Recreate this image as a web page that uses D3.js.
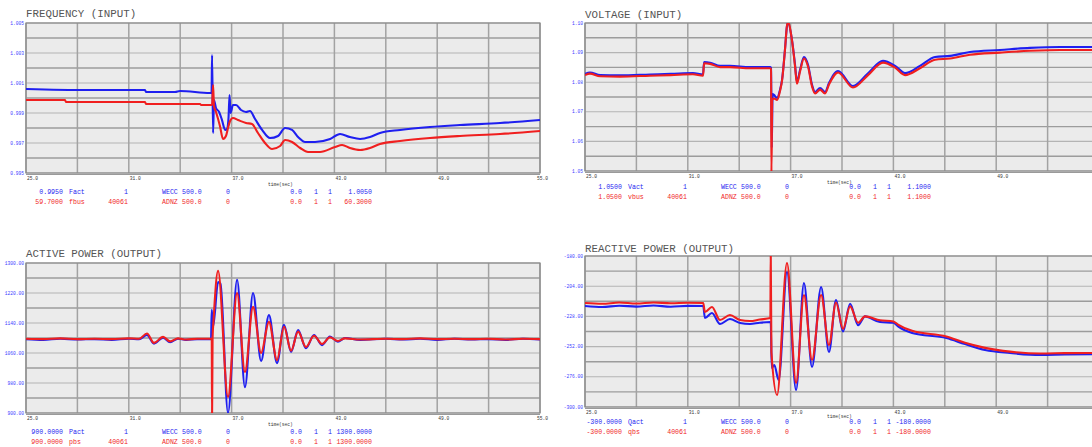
<!DOCTYPE html>
<html><head><meta charset="utf-8">
<script src="https://cdn.jsdelivr.net/npm/d3@7"></script>
<style>body{margin:0;background:#fff}svg{display:block}</style>
</head><body>
<svg id="c" width="1092" height="447"></svg>
<script>
// ---------------- DATA ----------------
const xTickValues = [25, 31, 37, 43, 49, 55];
const xTickLabels = ["25.0", "31.0", "37.0", "43.0", "49.0", "55.0"];
const titles = ["FREQUENCY (INPUT)", "VOLTAGE (INPUT)", "ACTIVE POWER (OUTPUT)", "REACTIVE POWER (OUTPUT)"];

const freqTicks = ["1.005", "1.003", "1.001", "0.999", "0.997", "0.995"];
const voltTicks = ["1.10", "1.09", "1.08", "1.07", "1.06", "1.05"];
const activeTicks = ["1300.00", "1220.00", "1140.00", "1060.00", "980.00", "900.00"];
const reactiveTicks = ["-180.00", "-204.00", "-228.00", "-252.00", "-276.00", "-300.00"];

const freqBlue = [[25.00,1.0006],[28.50,1.00053],[31.95,1.00053],[32.00,1.0004],[33.70,1.0004],[33.99,1.00047],[35.74,1.00033],[35.83,1.00033],[35.86,1.00287],[35.92,0.99767],[35.97,0.99987],[36.09,0.99933],[36.27,0.99907],[36.44,0.99853],[36.62,0.99787],[36.73,0.99793],[36.82,0.99867],[36.88,1.0002],[36.94,0.999],[37.08,0.99953],[37.26,0.99953],[37.55,0.9992],[37.84,0.99907],[38.07,0.99913],[38.37,0.9986],[38.78,0.99787],[39.24,0.99733],[39.71,0.99747],[40.12,0.998],[40.53,0.99787],[40.88,0.9974],[41.29,0.99707],[41.87,0.99707],[42.75,0.99727],[43.33,0.9976],[43.91,0.9974],[44.50,0.99727],[45.08,0.9974],[45.66,0.99767],[46.83,0.99787],[48.58,0.99807],[50.33,0.9982],[52.67,0.99833],[55.00,0.99853]];
const freqRed = [[25.00,59.992],[27.28,59.992],[27.33,59.984],[31.95,59.984],[32.00,59.976],[35.16,59.976],[35.22,59.972],[35.86,59.972],[35.92,60.052],[35.97,59.968],[36.09,59.944],[36.32,59.888],[36.50,59.836],[36.67,59.848],[36.79,59.88],[36.91,59.908],[37.08,59.92],[37.37,59.912],[37.84,59.9],[38.19,59.896],[38.54,59.86],[38.95,59.82],[39.36,59.796],[39.83,59.808],[40.12,59.832],[40.53,59.824],[41.00,59.80],[41.46,59.784],[42.16,59.784],[43.04,59.804],[43.45,59.812],[43.91,59.80],[44.50,59.792],[45.08,59.80],[45.66,59.816],[46.83,59.828],[48.58,59.84],[50.33,59.848],[52.67,59.856],[55.00,59.868]];

const voltBlue = [[25.00,1.0828],[25.29,1.0833],[25.88,1.0824],[27.04,1.0823],[28.79,1.0826],[30.00,1.0828],[31.30,1.0831],[31.89,1.0826],[31.95,1.0868],[32.30,1.0866],[32.88,1.0855],[33.46,1.0855],[34.63,1.0851],[35.80,1.0851],[35.86,1.0848],[35.90,1.0578],[35.95,1.0760],[36.03,1.0757],[36.21,1.0747],[36.38,1.0774],[36.50,1.0808],[36.67,1.0909],[36.79,1.0990],[36.85,1.1000],[37.08,1.0943],[37.26,1.0858],[37.37,1.0801],[37.55,1.0841],[37.78,1.0885],[38.02,1.0858],[38.25,1.0791],[38.43,1.0767],[38.72,1.0780],[39.01,1.0767],[39.24,1.0797],[39.77,1.0838],[40.64,1.0787],[41.52,1.0830],[42.39,1.0872],[43.10,1.0855],[43.68,1.0831],[44.55,1.0855],[45.43,1.0885],[46.31,1.0889],[47.47,1.0902],[49.22,1.0909],[50.97,1.0916],[52.73,1.0919],[55.00,1.0919]];
const voltRed = [[25.00,1.0824],[25.29,1.0829],[25.88,1.0820],[27.04,1.0819],[28.79,1.0822],[30.00,1.0824],[31.30,1.0827],[31.89,1.0822],[31.95,1.0864],[32.30,1.0862],[32.88,1.0851],[33.46,1.0851],[34.63,1.0847],[35.80,1.0847],[35.86,1.0844],[35.88,1.0490],[35.93,1.0740],[36.03,1.0745],[36.21,1.0740],[36.38,1.0770],[36.50,1.0805],[36.67,1.0908],[36.79,1.0992],[36.85,1.1002],[37.08,1.0942],[37.26,1.0853],[37.37,1.0795],[37.55,1.0836],[37.78,1.0880],[38.02,1.0852],[38.25,1.0786],[38.43,1.0762],[38.72,1.0775],[39.01,1.0762],[39.24,1.0792],[39.77,1.0833],[40.64,1.0782],[41.52,1.0824],[42.39,1.0866],[43.10,1.0849],[43.68,1.0824],[44.55,1.0847],[45.43,1.0876],[46.31,1.0880],[47.47,1.0893],[49.22,1.0900],[50.97,1.0906],[52.73,1.0909],[55.00,1.0909]];

const activeBlue = [[25.00,1097],[26.0,1095],[27.0,1098],[28.0,1096],[29.0,1097],[30.0,1095],[31.0,1098],[31.6,1097],[32.06,1108],[32.47,1085],[33.00,1101],[33.41,1089],[33.87,1098],[34.34,1095],[35.0,1097],[35.80,1097],[35.84,1175],[35.92,1130],[36.21,1249],[36.35,1245],[36.79,900],[37.32,1255],[37.78,969],[38.25,1220],[38.72,1039],[39.18,1161],[39.65,1033],[40.06,1135],[40.47,1063],[40.88,1121],[41.34,1073],[41.81,1108],[42.28,1081],[42.74,1104],[43.20,1090],[43.62,1100],[44.50,1095],[46.0,1098],[47.0,1096],[48.0,1098],[49.0,1095],[50.0,1098],[51.0,1096],[52.0,1097],[53.0,1095],[54.0,1098],[55.0,1096]];
const activeRed = [[25.00,1098],[26.0,1097],[27.0,1099],[28.0,1097],[29.0,1098],[30.0,1097],[31.0,1099],[31.6,1098],[32.06,1112],[32.47,1087],[33.00,1103],[33.41,1091],[33.87,1099],[34.34,1096],[35.0,1098],[35.84,1098],[35.86,890],[35.89,1100],[35.95,1150],[36.21,1279],[36.79,943],[37.32,1220],[37.78,1009],[38.25,1183],[38.72,1060],[39.18,1143],[39.65,1041],[40.06,1130],[40.47,1066],[40.88,1117],[41.34,1076],[41.81,1106],[42.28,1084],[42.74,1102],[43.20,1092],[43.62,1099],[44.50,1096],[46.0,1098],[47.0,1097],[48.0,1099],[49.0,1097],[50.0,1098],[51.0,1097],[52.0,1098],[53.0,1096],[54.0,1098],[55.0,1097]];

const reactiveBlue = [[25.0,-219.7],[26.0,-220.5],[27.0,-219.5],[28.0,-220.2],[29.0,-219.3],[30.0,-220.3],[31.0,-219.6],[31.9,-219.7],[32.0,-229.3],[32.41,-225.3],[32.88,-234.0],[33.46,-230.1],[34.05,-233.2],[34.63,-234.0],[35.2,-233.0],[35.84,-232.5],[35.90,-269.0],[36.05,-266.6],[36.30,-278.5],[36.79,-192.7],[37.32,-286.5],[37.78,-201.5],[38.25,-268.2],[38.78,-204.6],[39.24,-256.3],[39.65,-215.0],[40.06,-240.0],[40.47,-218.0],[40.94,-235.0],[41.34,-228.0],[42.22,-232.5],[43.00,-233.0],[43.27,-236.0],[44.09,-241.2],[46.09,-245.2],[47.18,-250.0],[48.35,-254.7],[49.81,-257.1],[51.56,-258.7],[53.0,-258.3],[55.0,-258.0]];
const reactiveRed = [[25.0,-217.4],[26.0,-218.0],[27.0,-217.0],[28.0,-217.8],[29.0,-216.9],[30.0,-217.6],[31.0,-217.2],[31.9,-217.4],[32.0,-224.5],[32.41,-220.5],[32.88,-230.9],[33.46,-226.9],[34.05,-230.9],[34.63,-231.7],[35.2,-230.5],[35.82,-229.3],[35.84,-175],[35.88,-256.3],[36.21,-290.5],[36.79,-185.6],[37.32,-280.9],[37.78,-211.0],[38.25,-262.6],[38.78,-211.0],[39.24,-250.7],[39.65,-217.0],[40.06,-238.0],[40.47,-220.0],[40.94,-233.0],[41.34,-228.0],[42.22,-231.0],[43.00,-232.0],[43.27,-234.5],[44.09,-239.5],[46.09,-244.0],[47.18,-249.0],[48.35,-253.0],[49.81,-256.0],[51.56,-257.5],[53.0,-257.2],[55.0,-257.0]];

const legendFreqBlue = ["0.9950", "Fact", "1", "WECC", "500.0", "0", "0.0", "1", "1", "1.0050"];
const legendFreqRed = ["59.7000", "fbus", "40061", "ADNZ", "500.0", "0", "0.0", "1", "1", "60.3000"];
const legendVoltBlue = ["1.0500", "Vact", "1", "WECC", "500.0", "0", "0.0", "1", "1", "1.1000"];
const legendVoltRed = ["1.0500", "vbus", "40061", "ADNZ", "500.0", "0", "0.0", "1", "1", "1.1000"];
const legendActiveBlue = ["900.0000", "Pact", "1", "WECC", "500.0", "0", "0.0", "1", "1", "1300.0000"];
const legendActiveRed = ["900.0000", "pbs", "40061", "ADNZ", "500.0", "0", "0.0", "1", "1", "1300.0000"];
const legendReactiveBlue = ["-300.0000", "Qact", "1", "WECC", "500.0", "0", "0.0", "1", "1", "-180.0000"];
const legendReactiveRed = ["-300.0000", "qbs", "40061", "ADNZ", "500.0", "0", "0.0", "1", "1", "-180.0000"];

// ---------------- DRAW ----------------
const W = 1092;
const svg = d3.select("#c");
const BLUE = "#1f1ff0", RED = "#f01f1f";
const MONO = "'Liberation Mono','DejaVu Sans Mono',monospace";

const panels = [
  {id:"p0", box:[26,540,23,173], title:titles[0], ticks:freqTicks,
   blue:{data:freqBlue, dom:[0.995,1.005]}, red:{data:freqRed, dom:[59.7,60.3]},
   legB:legendFreqBlue, legR:legendFreqRed, tOff:-6, lOff:21, sOff:11},
  {id:"p1", box:[585,1099,23,171], title:titles[1], ticks:voltTicks,
   blue:{data:voltBlue, dom:[1.05,1.10]}, red:{data:voltRed, dom:[1.05,1.10]},
   legB:legendVoltBlue, legR:legendVoltRed, tOff:-5, lOff:18, sOff:11},
  {id:"p2", box:[26,540,263,413], title:titles[2], ticks:activeTicks,
   blue:{data:activeBlue, dom:[900,1300]}, red:{data:activeRed, dom:[900,1300]},
   legB:legendActiveBlue, legR:legendActiveRed, tOff:-6, lOff:21, sOff:11},
  {id:"p3", box:[585,1099,256,407], title:titles[3], ticks:reactiveTicks,
   blue:{data:reactiveBlue, dom:[-300,-180]}, red:{data:reactiveRed, dom:[-300,-180]},
   legB:legendReactiveBlue, legR:legendReactiveRed, tOff:-4, lOff:17, sOff:9}
];

const legCols = [[37,"end"],[43,"start"],[102,"end"],[136,"start"],[156,"start"],[200,"start"],
                 [276,"end"],[290,"middle"],[304,"middle"],[346,"end"]];

const defs = svg.append("defs");

panels.forEach(p => {
  const [x0,x1,y0,y1] = p.box;
  const x = d3.scaleLinear().domain([25,55]).range([x0,x1]);
  const yB = d3.scaleLinear().domain(p.blue.dom).range([y1,y0]);
  const yR = d3.scaleLinear().domain(p.red.dom).range([y1,y0]);
  const g = svg.append("g");

  defs.append("clipPath").attr("id","clip"+p.id)
    .append("rect").attr("x",x0).attr("y",y0).attr("width",x1-x0).attr("height",y1-y0);

  g.append("rect").attr("x",x0).attr("y",y0).attr("width",x1-x0).attr("height",y1-y0)
    .attr("fill","#ebebeb");

  const hy = d3.range(0,11).map(i => y0 + (y1-y0)*i/10);
  g.selectAll(".hg").data(hy).join("line")
    .attr("x1",x0).attr("x2",x1).attr("y1",d=>d).attr("y2",d=>d)
    .attr("stroke",(d,i)=> i%2? "#9c9c9c":"#b4b4b4").attr("stroke-width",(d,i)=> i%2?1.4:1.1);
  const vx = d3.range(0,11).map(i => 25 + 3*i);
  g.selectAll(".vg").data(vx).join("line")
    .attr("x1",d=>x(d)).attr("x2",d=>x(d)).attr("y1",y0).attr("y2",y1)
    .attr("stroke","#a2a2a2").attr("stroke-width",1.5);

  g.append("rect").attr("x",x0).attr("y",y0).attr("width",x1-x0).attr("height",y1-y0)
    .attr("fill","none").attr("stroke","#8a8a8a").attr("stroke-width",1.2);
  g.append("line").attr("x1",x0).attr("x2",x1).attr("y1",y1+1.5).attr("y2",y1+1.5)
    .attr("stroke","#9a9a9a").attr("stroke-width",1.2);

  const pg = g.append("g").attr("clip-path","url(#clip"+p.id+")");
  const lb = d3.line().x(d=>x(d[0])).y(d=>yB(d[1])).curve(d3.curveMonotoneX);
  const lr = d3.line().x(d=>x(d[0])).y(d=>yR(d[1])).curve(d3.curveMonotoneX);
  pg.append("path").attr("d",lb(p.blue.data)).attr("fill","none").attr("stroke",BLUE)
    .attr("stroke-width",2.1).attr("stroke-linejoin","round");
  pg.append("path").attr("d",lr(p.red.data)).attr("fill","none").attr("stroke",RED)
    .attr("stroke-width",2.1).attr("stroke-linejoin","round");

  const tv = d3.range(0,6).map(i => p.blue.dom[1] - (p.blue.dom[1]-p.blue.dom[0])*i/5);
  g.selectAll(".yt").data(tv).join("text")
    .attr("x",x0-2).attr("y",d=>yB(d)+1.5).attr("text-anchor","end")
    .attr("font-family",MONO).attr("font-size",4.6).attr("fill","#3b3bff")
    .text((d,i)=>p.ticks[i]);

  const xt = xTickValues.map((v,i)=>({v, label:xTickLabels[i], last:i===xTickValues.length-1}))
    .filter(d => x(d.v) < W - 12);
  g.selectAll(".xt").data(xt).join("text")
    .attr("x",d=> d.last ? x(d.v)-3 : x(d.v)+1).attr("y",y1+7)
    .attr("font-family",MONO).attr("font-size",4.6).attr("fill","#333")
    .text(d=>d.label);

  g.append("text").attr("x",x0).attr("y",y0+p.tOff)
    .attr("font-family",MONO).attr("font-size",10.8).attr("fill","#555")
    .text(p.title);

  g.append("text").attr("x",x0+242).attr("y",y1+p.sOff+1.5)
    .attr("font-family",MONO).attr("font-size",4.6).attr("fill","#333").text("time(sec)");

  [[p.legB,BLUE,0],[p.legR,RED,10]].forEach(([arr,col,dy]) => {
    g.selectAll(null).data(arr).join("text")
      .attr("x",(d,i)=>x0+legCols[i][0]).attr("y",y1+p.lOff+dy)
      .attr("text-anchor",(d,i)=>legCols[i][1])
      .attr("font-family",MONO).attr("font-size",6.6).attr("fill",col)
      .text(d=>d);
  });
});
</script>
</body></html>
